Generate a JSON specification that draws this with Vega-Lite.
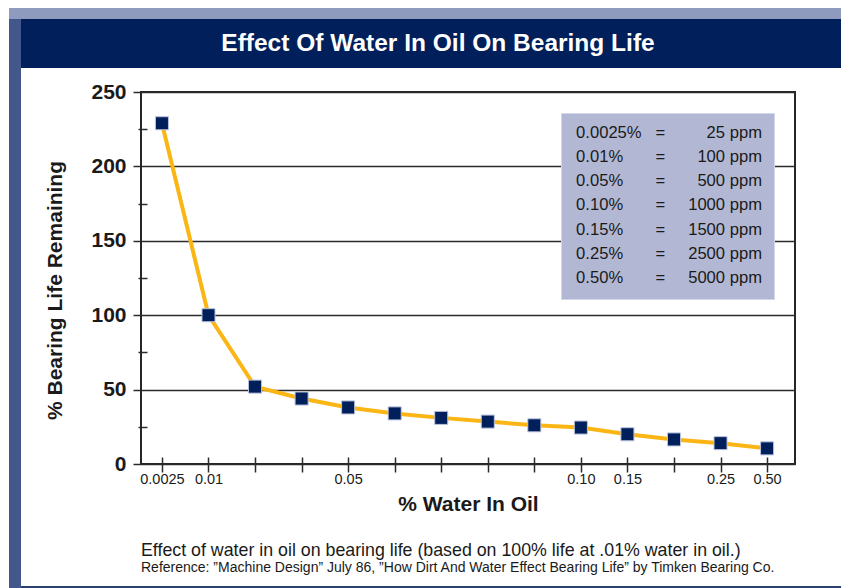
{
  "$schema": "https://vega.github.io/schema/vega-lite/v6.json",
  "background": "white",
  "padding": {"left": 9, "top": 8, "right": 0, "bottom": 0},
  "spacing": -12,
  "resolve": {"scale": {"color": "independent"}, "legend": {"color": "independent"}},
  "config": {
    "font": "Liberation Sans",
    "view": {"stroke": null}
  },
  "datasets": {
    "life": [
      {"idx": 1, "life": 229},
      {"idx": 2, "life": 100},
      {"idx": 3, "life": 52},
      {"idx": 4, "life": 44},
      {"idx": 5, "life": 38},
      {"idx": 6, "life": 34},
      {"idx": 7, "life": 31},
      {"idx": 8, "life": 28.5},
      {"idx": 9, "life": 26},
      {"idx": 10, "life": 24.5},
      {"idx": 11, "life": 20},
      {"idx": 12, "life": 16.5},
      {"idx": 13, "life": 14},
      {"idx": 14, "life": 10.5}
    ],
    "conversions": [
      {"conversion": "0.0025% = 25 ppm"},
      {"conversion": "0.01% = 100 ppm"},
      {"conversion": "0.05% = 500 ppm"},
      {"conversion": "0.10% = 1000 ppm"},
      {"conversion": "0.15% = 1500 ppm"},
      {"conversion": "0.25% = 2500 ppm"},
      {"conversion": "0.50% = 5000 ppm"}
    ],
    "banner": [{"title": "Effect Of Water In Oil On Bearing Life"}],
    "blank": [{"k": 1}]
  },
  "vconcat": [
    {
      "spacing": 0,
      "vconcat": [
        {
          "width": 832, "height": 11,
          "data": {"name": "blank"},
          "mark": {"type": "rect", "color": "#8e9bbf"},
          "encoding": {},
          "view": {"fill": "#8e9bbf", "stroke": null}
        },
        {
          "spacing": 0,
          "hconcat": [
            {
              "width": 12, "height": 73,
              "data": {"name": "blank"},
              "mark": {"type": "rect", "color": "#43578a"},
              "encoding": {},
              "view": {"fill": "#43578a", "stroke": null}
            },
            {
              "width": 820, "height": 49,
              "data": {"name": "banner"},
              "mark": {"type": "text", "color": "white", "fontSize": 24.5, "fontWeight": "bold", "font": "Liberation Sans", "dx": 7},
              "encoding": {"text": {"field": "title"}},
              "view": {"fill": "#001f5b", "stroke": null}
            }
          ]
        }
      ]
    },
    {
      "spacing": 0,
      "resolve": {"scale": {"color": "independent"}, "legend": {"color": "independent"}},
      "vconcat": [
        {
          "spacing": 22,
          "resolve": {"scale": {"color": "independent"}, "legend": {"color": "independent"}},
          "hconcat": [
            {
              "width": 12, "height": 494,
              "data": {"name": "blank"},
              "mark": {"type": "rect", "color": "#43578a"},
              "encoding": {},
              "view": {"fill": "#43578a", "stroke": null}
            },
            {
              "width": 654, "height": 372,
              "view": {"stroke": "#262626", "strokeWidth": 2, "fill": "white"},
              "title": {
                "text": "Effect of water in oil on bearing life (based on 100% life at .01%  water in oil.)",
                "subtitle": "Reference: ”Machine Design” July 86, ”How Dirt And Water Effect Bearing Life” by Timken Bearing Co.",
                "orient": "bottom", "anchor": "start", "frame": "group",
                "font": "Liberation Sans", "fontSize": 17.8, "fontWeight": "normal", "color": "#1a1a1a",
                "subtitleFont": "Liberation Sans", "subtitleFontSize": 14, "subtitleColor": "#1a1a1a",
                "subtitlePadding": 2, "offset": 27
              },
              "layer": [
                {
                  "data": {"name": "life"},
                  "mark": {"type": "line", "color": "#fbb514", "strokeWidth": 4},
                  "encoding": {
                    "x": {
                      "field": "idx", "type": "quantitative",
                      "scale": {"domain": [0.55, 14.6], "nice": false, "zero": false},
                      "axis": {
                        "values": [1, 2, 3, 4, 5, 6, 7, 8, 9, 10, 11, 12, 13, 14],
                        "labelExpr": "datum.value == 1 ? '0.0025' : datum.value == 2 ? '0.01' : datum.value == 5 ? '0.05' : datum.value == 10 ? '0.10' : datum.value == 11 ? '0.15' : datum.value == 13 ? '0.25' : datum.value == 14 ? '0.50' : ''",
                        "title": "% Water In Oil",
                        "offset": -7, "tickSize": 15, "tickColor": "#2b2b2b", "tickWidth": 1.5,
                        "domain": false, "grid": false,
                        "labelFont": "Liberation Sans", "labelFontSize": 14.5, "labelColor": "#1a1a1a", "labelPadding": 0,
                        "labelFlush": false, "labelOverlap": false,
                        "titleFont": "Liberation Sans", "titleFontSize": 21, "titleFontWeight": "bold", "titleColor": "#1a1a1a", "titlePadding": 8
                      }
                    },
                    "y": {
                      "field": "life", "type": "quantitative",
                      "scale": {"domain": [0, 250], "nice": false},
                      "axis": {
                        "values": [0, 50, 100, 150, 200, 250],
                        "title": "% Bearing Life Remaining",
                        "grid": true, "gridColor": "#2b2b2b", "gridWidth": 1.5,
                        "domain": false, "tickSize": 8, "tickColor": "#2b2b2b", "tickWidth": 1.5,
                        "labelFont": "Liberation Sans", "labelFontSize": 21, "labelFontWeight": "bold", "labelColor": "#1a1a1a", "labelPadding": 7,
                        "labelFlush": false,
                        "titleFont": "Liberation Sans", "titleFontSize": 21, "titleFontWeight": "bold", "titleColor": "#1a1a1a", "titlePadding": 25,
                        "titleY": 198
                      }
                    }
                  }
                },
                {
                  "data": {"name": "life"},
                  "mark": {"type": "point", "shape": "square", "filled": true, "size": 170, "color": "#001f5b", "stroke": "#b9c3dd", "strokeWidth": 1, "opacity": 1},
                  "encoding": {
                    "x": {"field": "idx", "type": "quantitative"},
                    "y": {
                      "field": "life", "type": "quantitative",
                      "axis": {
                        "orient": "left", "values": [25, 75, 125, 175, 225],
                        "labels": false, "domain": false, "grid": false, "title": null,
                        "tickSize": 9, "offset": -6, "tickColor": "#2b2b2b", "tickWidth": 1.5
                      }
                    }
                  }
                },
                {
                  "data": {"name": "conversions"},
                  "mark": {"type": "point", "opacity": 0},
                  "encoding": {
                    "color": {
                      "field": "conversion", "type": "nominal",
                      "scale": {"range": ["#b2b8d4"]},
                      "legend": {
                        "title": null, "orient": "top-right", "offset": 21,
                        "fillColor": "#b2b8d4", "strokeColor": "#d3d7e8",
                        "padding": 11.5, "cornerRadius": 0,
                        "symbolSize": 0, "symbolStrokeWidth": 0, "symbolOpacity": 0, "labelOffset": -13,
                        "labelFont": "Liberation Sans", "labelFontSize": 16.6, "labelColor": "#1a1a1a",
                        "labelLimit": 400, "rowPadding": 7.2,
                        "labelExpr": "split(datum.label, ' = ')[0] + pad('', 3 + 2 * (7 - length(split(datum.label, ' = ')[0])), '\u00a0') + '=' + pad('', 5 + 2 * (8 - length(split(datum.label, ' = ')[1])), '\u00a0') + split(datum.label, ' = ')[1]"
                      }
                    }
                  }
                }
              ],
              "resolve": {"axis": {"y": "independent"}}
            }
          ]
        },
        {
          "spacing": 0,
          "hconcat": [
            {
              "width": 12, "height": 2,
              "data": {"name": "blank"},
              "mark": {"type": "rect", "color": "#43578a"},
              "encoding": {},
              "view": {"fill": "#43578a", "stroke": null}
            },
            {
              "width": 820, "height": 2,
              "data": {"name": "blank"},
              "mark": {"type": "rect", "color": "#2c4072"},
              "encoding": {},
              "view": {"fill": "#2c4072", "stroke": null}
            }
          ]
        }
      ]
    }
  ]
}
